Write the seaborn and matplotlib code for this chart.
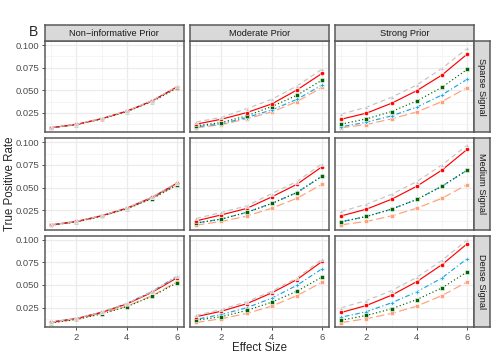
import numpy as np
import pandas as pd
import matplotlib
matplotlib.use("Agg")
import matplotlib.pyplot as plt
import seaborn as sns

effect = [1, 2, 3, 4, 5, 6]
priors = ["Non\u2212informative Prior", "Moderate Prior", "Strong Prior"]
signals = ["Sparse Signal", "Medium Signal", "Dense Signal"]
methods = ["M1", "M2", "M3", "M4", "M5"]

# rows: M1 (grey), M2 (red), M3 (green), M4 (blue), M5 (salmon)
sparse_noninf = [[0.0088, 0.0125, 0.0188, 0.0272, 0.0385, 0.0545],
                 [0.0086, 0.0123, 0.0186, 0.0270, 0.0382, 0.0540],
                 [0.0085, 0.0120, 0.0182, 0.0264, 0.0375, 0.0525],
                 [0.0086, 0.0122, 0.0185, 0.0268, 0.0380, 0.0535],
                 [0.0085, 0.0120, 0.0184, 0.0266, 0.0380, 0.0530]]
sparse_moderate = [[0.0150, 0.0200, 0.0297, 0.0400, 0.0548, 0.0735],
                   [0.0125, 0.0180, 0.0253, 0.0349, 0.0504, 0.0688],
                   [0.0107, 0.0143, 0.0217, 0.0320, 0.0445, 0.0614],
                   [0.0095, 0.0129, 0.0198, 0.0283, 0.0400, 0.0559],
                   [0.0085, 0.0120, 0.0184, 0.0260, 0.0375, 0.0533]]
sparse_strong = [[0.0236, 0.0313, 0.0423, 0.0559, 0.0743, 0.0963],
                 [0.0180, 0.0247, 0.0357, 0.0496, 0.0669, 0.0900],
                 [0.0125, 0.0184, 0.0265, 0.0382, 0.0533, 0.0732],
                 [0.0096, 0.0147, 0.0217, 0.0313, 0.0449, 0.0622],
                 [0.0085, 0.0121, 0.0184, 0.0260, 0.0375, 0.0529]]
medium_noninf = [[0.0088, 0.0127, 0.0190, 0.0275, 0.0395, 0.0555],
                 [0.0087, 0.0126, 0.0189, 0.0273, 0.0392, 0.0550],
                 [0.0085, 0.0120, 0.0183, 0.0265, 0.0378, 0.0528],
                 [0.0086, 0.0123, 0.0186, 0.0269, 0.0385, 0.0540],
                 [0.0085, 0.0120, 0.0184, 0.0266, 0.0380, 0.0530]]
medium_moderate = [[0.0158, 0.0225, 0.0297, 0.0434, 0.0567, 0.0765],
                   [0.0132, 0.0198, 0.0269, 0.0397, 0.0537, 0.0732],
                   [0.0107, 0.0151, 0.0225, 0.0324, 0.0445, 0.0628],
                   [0.0108, 0.0152, 0.0226, 0.0325, 0.0446, 0.0626],
                   [0.0085, 0.0125, 0.0184, 0.0272, 0.0382, 0.0537]]
medium_strong = [[0.0236, 0.0316, 0.0426, 0.0567, 0.0750, 0.0970],
                 [0.0187, 0.0261, 0.0371, 0.0515, 0.0694, 0.0923],
                 [0.0121, 0.0180, 0.0261, 0.0368, 0.0515, 0.0694],
                 [0.0122, 0.0181, 0.0262, 0.0369, 0.0516, 0.0692],
                 [0.0088, 0.0125, 0.0187, 0.0272, 0.0382, 0.0533]]
dense_noninf = [[0.0090, 0.0130, 0.0198, 0.0295, 0.0425, 0.0595],
                [0.0089, 0.0129, 0.0196, 0.0290, 0.0418, 0.0580],
                [0.0082, 0.0118, 0.0180, 0.0260, 0.0375, 0.0525],
                [0.0090, 0.0130, 0.0199, 0.0296, 0.0428, 0.0598],
                [0.0083, 0.0120, 0.0183, 0.0265, 0.0380, 0.0535]]
dense_moderate = [[0.0163, 0.0229, 0.0314, 0.0431, 0.0578, 0.0787],
                  [0.0149, 0.0210, 0.0292, 0.0413, 0.0560, 0.0761],
                  [0.0110, 0.0149, 0.0218, 0.0310, 0.0431, 0.0589],
                  [0.0120, 0.0174, 0.0248, 0.0354, 0.0497, 0.0680],
                  [0.0085, 0.0127, 0.0185, 0.0266, 0.0383, 0.0530]]
dense_strong = [[0.0248, 0.0328, 0.0438, 0.0585, 0.0772, 0.1000],
                [0.0196, 0.0273, 0.0387, 0.0537, 0.0725, 0.0956],
                [0.0111, 0.0163, 0.0237, 0.0339, 0.0468, 0.0645],
                [0.0144, 0.0204, 0.0303, 0.0424, 0.0578, 0.0791],
                [0.0083, 0.0127, 0.0185, 0.0266, 0.0383, 0.0534]]

panels = {
    ("Sparse Signal", priors[0]): sparse_noninf,
    ("Sparse Signal", priors[1]): sparse_moderate,
    ("Sparse Signal", priors[2]): sparse_strong,
    ("Medium Signal", priors[0]): medium_noninf,
    ("Medium Signal", priors[1]): medium_moderate,
    ("Medium Signal", priors[2]): medium_strong,
    ("Dense Signal", priors[0]): dense_noninf,
    ("Dense Signal", priors[1]): dense_moderate,
    ("Dense Signal", priors[2]): dense_strong,
}

rows = []
for (sig, pri), vals in panels.items():
    for m, series in zip(methods, vals):
        for e, v in zip(effect, series):
            rows.append(dict(signal=sig, prior=pri, method=m, effect=e, tpr=v))
df = pd.DataFrame(rows)

palette = {"M1": "#C4C4C4", "M2": "#FF0000", "M3": "#006400",
           "M4": "#1CA6E3", "M5": "#FFA07A"}
dashes = {"M1": (4, 3), "M2": "", "M3": (1, 2), "M4": (1, 2, 4, 2), "M5": (7, 3)}
markers = {"M1": "^", "M2": "o", "M3": "s", "M4": "P", "M5": "s"}

sns.set_theme(style="white")
plt.rcParams["font.family"] = ["Liberation Sans", "DejaVu Sans"]

W, H = 495, 360
fig = plt.figure(figsize=(W / 100, H / 100), dpi=100)

lefts = [45, 190, 335]
pw = 138.5
tops = [41, 138.3, 235.7]
ph = 91.3
border = "#5a5a5a"

def px_rect(x, y, w, h):
    return [x / W, 1 - (y + h) / H, w / W, h / H]

for i, sig in enumerate(signals):
    for j, pri in enumerate(priors):
        ax = fig.add_axes(px_rect(lefts[j], tops[i], pw, ph))
        sub = df[(df.signal == sig) & (df.prior == pri)]
        sns.lineplot(data=sub, x="effect", y="tpr", hue="method", style="method",
                     palette=palette, dashes=dashes, markers=markers,
                     hue_order=methods[::-1], style_order=methods[::-1],
                     linewidth=0.85, markersize=3, markeredgewidth=0.4,
                     legend=False, ax=ax)
        ax.set_xlim(0.75, 6.25)
        ax.set_ylim(0.0035, 0.1045)
        ax.set_xticks([2, 4, 6])
        ax.set_xticks([1, 3, 5], minor=True)
        ax.set_yticks([0.025, 0.05, 0.075, 0.1])
        ax.set_yticks([0.0125, 0.0375, 0.0625, 0.0875], minor=True)
        ax.grid(which="major", color="#EBEBEB", linewidth=0.9)
        ax.grid(which="minor", color="#F2F2F2", linewidth=0.5)
        ax.set_axisbelow(True)
        for s in ax.spines.values():
            s.set_color(border)
            s.set_linewidth(1.1)
        ax.set_xlabel("")
        ax.set_ylabel("")
        ax.tick_params(which="major", length=2.5, width=0.6, color="#333333",
                       labelsize=6.8, labelcolor="#4D4D4D", pad=1.5)
        ax.tick_params(which="minor", length=0)
        if j == 0:
            ax.tick_params(axis="y", left=True)
            ax.set_yticklabels(["0.025", "0.050", "0.075", "0.100"])
        else:
            ax.set_yticklabels([])
        if i == 2:
            ax.tick_params(axis="x", bottom=True)
        else:
            ax.set_xticklabels([])

        if i == 0:
            sax = fig.add_axes(px_rect(lefts[j], 25, pw, 16))
            sax.set_facecolor("#D9D9D9")
            sax.set_xticks([]); sax.set_yticks([])
            for s in sax.spines.values():
                s.set_color(border); s.set_linewidth(1.1)
            sax.text(0.5, 0.5, pri, ha="center", va="center", fontsize=6.7,
                     color="#1A1A1A", transform=sax.transAxes)
        if j == 2:
            sax = fig.add_axes(px_rect(lefts[j] + pw, tops[i], 16, ph))
            sax.set_facecolor("#D9D9D9")
            sax.set_xticks([]); sax.set_yticks([])
            for s in sax.spines.values():
                s.set_color(border); s.set_linewidth(1.1)
            sax.text(0.5, 0.5, sig, ha="center", va="center", fontsize=6.7,
                     rotation=-90, color="#1A1A1A", transform=sax.transAxes)

fig.text(259 / W, 1 - 348 / H, "Effect Size", ha="center", va="center", fontsize=8.3)
fig.text(10 / W, 1 - 184 / H, "True Positive Rate", ha="center", va="center",
         rotation=90, fontsize=8.3)
fig.text(29 / W, 1 - 32 / H, "B", ha="left", va="center", fontsize=10)

fig.savefig("out.png", dpi=100)
